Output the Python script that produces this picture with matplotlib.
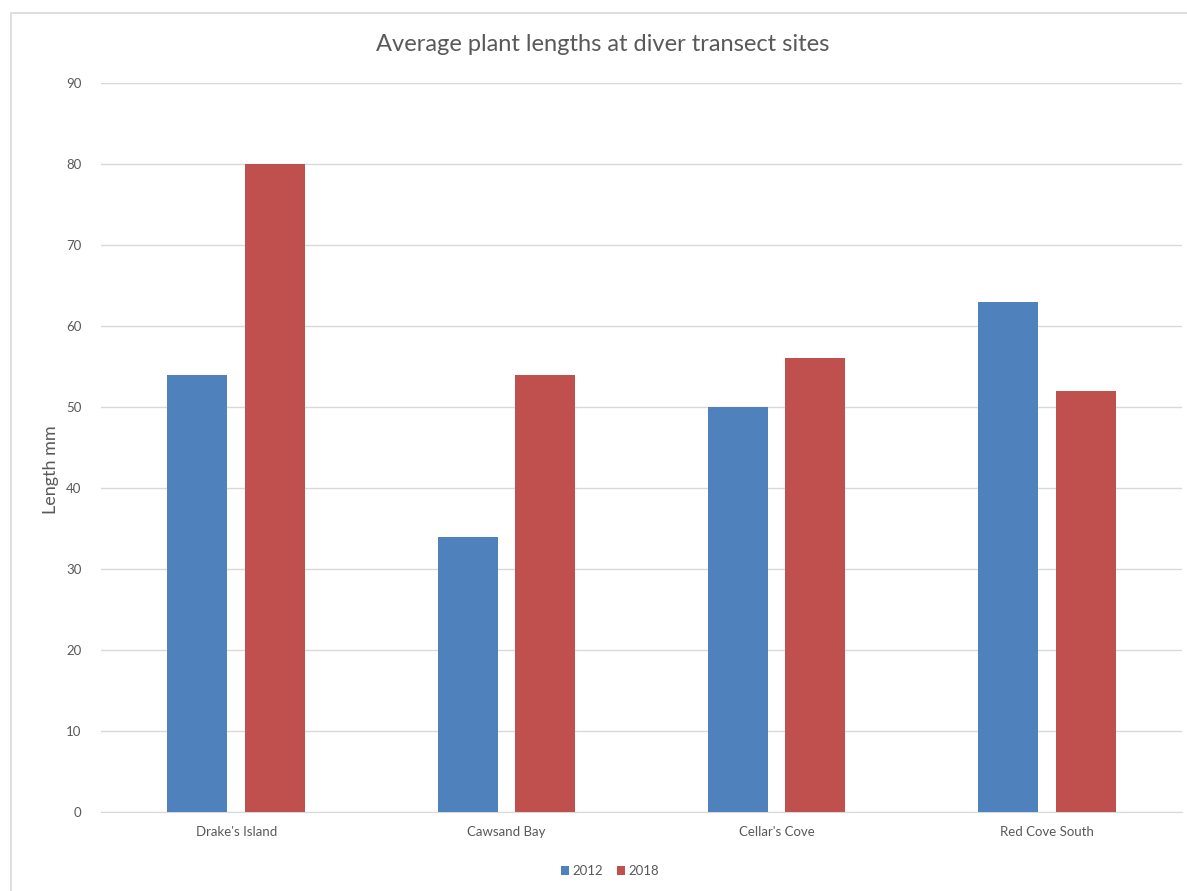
import numpy as np
import matplotlib
matplotlib.use('Agg')
import matplotlib.pyplot as plt
from matplotlib.patches import Rectangle

# Data
sites = ["Drake's Island", 'Cawsand Bay', "Cellar's Cove", 'Red Cove South']
len_2012 = [54, 34, 50, 63]
len_2018 = [80, 54, 56, 52]
years = ['2012', '2018']

plt.rcParams['font.family'] = ['Lato', 'DejaVu Sans']

fig = plt.figure(figsize=(11.87, 8.91), dpi=100)
ax = fig.add_axes([0.0851, 0.0887, 0.9107, 0.8181])

# outer chart border
fig.patches.append(Rectangle((11 / 1187, -0.05), 1.1, 1 - 13 / 891 + 0.05,
                             transform=fig.transFigure, fill=False,
                             edgecolor='#D9D9D9', linewidth=1.2))

x = np.arange(len(sites))
w = 0.222
ax.bar(x - 0.143, len_2012, w, color='#4F81BD', label=years[0], zorder=3)
ax.bar(x + 0.143, len_2018, w, color='#C0504D', label=years[1], zorder=3)

ax.set_xlim(-0.5, len(sites) - 0.5)
ax.set_ylim(0, 90)
ax.set_yticks(range(0, 91, 10))
ax.set_xticks(x)
ax.set_xticklabels(sites)
ax.grid(axis='y', color='#D9D9D9', linewidth=1, zorder=0)
for s in ['top', 'right', 'left']:
    ax.spines[s].set_visible(False)
ax.spines['bottom'].set_color('#D9D9D9')
ax.tick_params(axis='both', length=0, colors='#595959', labelsize=9.5)
ax.tick_params(axis='y', pad=14)
ax.tick_params(axis='x', pad=10)

ax.set_ylabel('Length mm', fontsize=13, color='#595959')
ax.yaxis.set_label_coords(-0.039, 0.47)

fig.text(0.508, 0.95, 'Average plant lengths at diver transect sites',
         ha='center', va='center', fontsize=17, color='#595959')

ax.legend(loc='center', bbox_to_anchor=(610 / 1187, 1 - 871 / 891), bbox_transform=fig.transFigure,
          ncol=2, frameon=False, fontsize=9.5, handlelength=0.6, handleheight=0.6,
          handletextpad=0.3, columnspacing=1.0, labelcolor='#595959')

fig.savefig('out.png', dpi=100)
